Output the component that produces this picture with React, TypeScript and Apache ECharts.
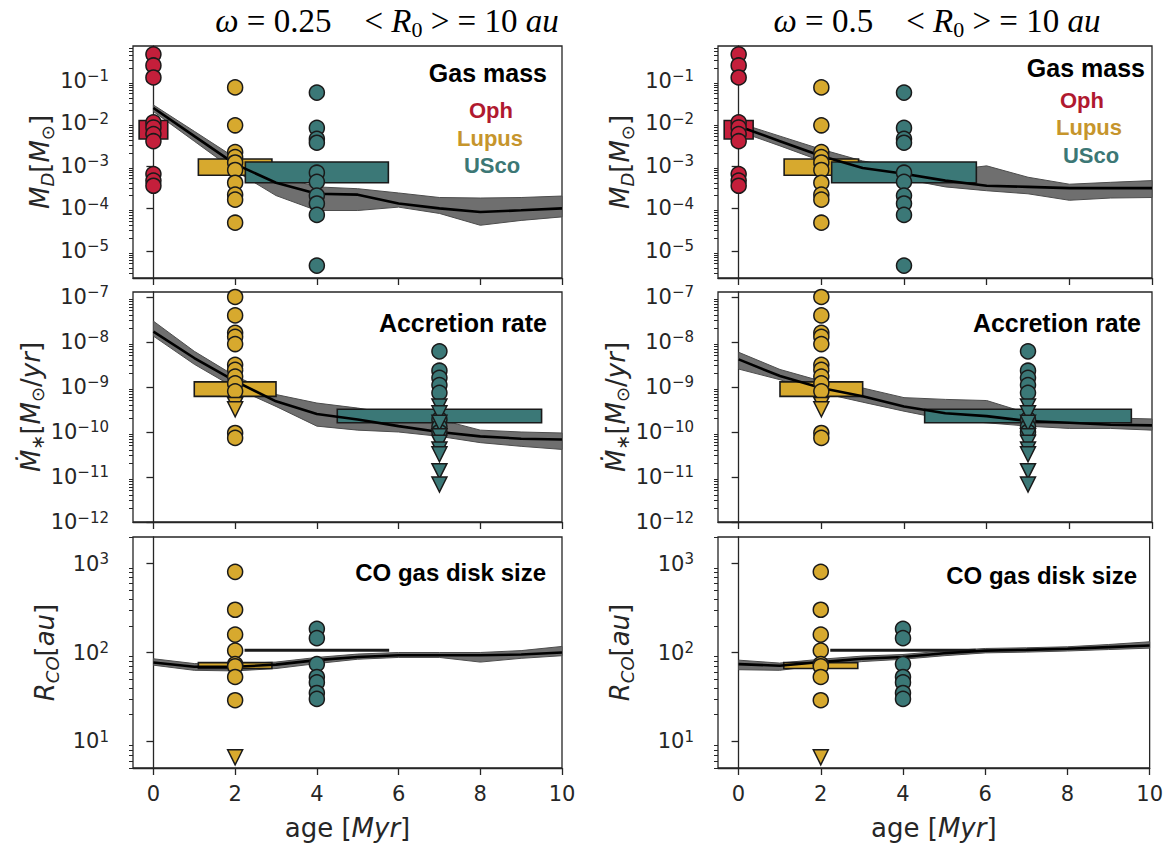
import React, { useEffect, useRef } from 'react';
import * as echarts from 'echarts';

// ---------- axis ticks ----------
const X_TICKS = [0, 2, 4, 6, 8, 10];
const MASS_RANGE = [2.3e-6, 0.66];
const ACC_RANGE = [1e-12, 1.29e-7];
const RCO_RANGE = [5, 2000];

// ---------- observations ----------
const OPH_AGE = 0;
const LUPUS_AGE = 2;
const USCO_AGE = 4;
const USCO_AGE_ACC = 7;

const OPH_MASS = [0.42, 0.23, 0.12, 1.05e-2, 8e-3, 5.6e-3, 3.8e-3, 6.4e-4, 4.5e-4, 3.4e-4];
const LUPUS_MASS = [0.07, 9e-3, 2.1e-3, 1.6e-3, 1.2e-3, 8e-4, 4e-4, 2.1e-4, 1.6e-4, 4.6e-5];
const USCO_MASS = [0.053, 7.8e-3, 4.3e-3, 3.5e-3, 6.9e-4, 4.2e-4, 2e-4, 1.3e-4, 7e-5, 4.5e-6];

const LUPUS_ACC = [1e-7, 3.9e-8, 1.6e-8, 1.3e-8, 9e-9, 3.1e-9, 2.4e-9, 1.7e-9, 1.2e-9, 8e-10, 9.5e-11, 7.4e-11];
const LUPUS_ACC_UL = [4e-10, 3.2e-10];
const USCO_ACC = [6.2e-9, 2.3e-9, 1.6e-9, 1.1e-9, 7.4e-10, 1.9e-10, 1.3e-10, 1e-10];
const USCO_ACC_UL = [3.7e-10, 2.6e-10, 1.6e-10, 8e-11, 5.8e-11, 4.1e-11, 3.2e-11, 1.35e-11, 6.8e-12];

const LUPUS_RCO = [810, 303, 159, 105, 74, 70, 53, 29];
const LUPUS_RCO_UL = [6.6];
const USCO_RCO = [185, 145, 74, 53, 46, 35, 30];

// boxes: [x0, x1, y0, y1]
const OPH_MASS_BOX = [-0.35, 0.35, 4.3e-3, 1.17e-2];
const LUPUS_MASS_BOX = [1.1, 2.9, 6e-4, 1.45e-3];
const USCO_MASS_BOX = [2.25, 5.75, 4e-4, 1.23e-3];
const LUPUS_ACC_BOX = [1.0, 3.0, 6.2e-10, 1.3e-9];
const USCO_ACC_BOX = [4.5, 9.5, 1.6e-10, 3.2e-10];
const LUPUS_RCO_BOX = [1.1, 2.9, 66, 77];
const USCO_RCO_BOX = [2.25, 5.75, 104, 108];

// ---------- models (age grid) ----------
const MODEL_AGES = [0, 1, 2, 3, 4, 5, 6, 7, 8, 9, 10];

// omega = 0.25
const L_MASS_MID = [2.3e-2, 5e-3, 1.1e-3, 4e-4, 2.2e-4, 2.1e-4, 1.3e-4, 1e-4, 8.2e-5, 9e-5, 1e-4];
const L_MASS_HI = [2.7e-2, 6.5e-3, 1.55e-3, 5.9e-4, 3.2e-4, 2.9e-4, 2.3e-4, 1.8e-4, 1.75e-4, 1.8e-4, 1.95e-4];
const L_MASS_LO = [1.9e-2, 3.8e-3, 7.6e-4, 2e-4, 8.9e-5, 8.9e-5, 1.07e-4, 7.6e-5, 4e-5, 5.2e-5, 6.3e-5];
const L_ACC_MID = [1.7e-8, 4.4e-9, 1.35e-9, 4.8e-10, 2.5e-10, 1.9e-10, 1.35e-10, 1.0e-10, 8e-11, 7.1e-11, 6.8e-11];
const L_ACC_HI = [2.9e-8, 6.2e-9, 1.75e-9, 6.8e-10, 4.4e-10, 3.4e-10, 2.45e-10, 1.9e-10, 1.1e-10, 1.0e-10, 9.5e-11];
const L_ACC_LO = [1.35e-8, 3.2e-9, 9.5e-10, 3.7e-10, 1.35e-10, 1.1e-10, 1.0e-10, 8e-11, 5.8e-11, 4.8e-11, 4.1e-11];
const L_RCO_MID = [77, 69, 69, 73, 82, 89, 93, 93, 93, 95, 100];
const L_RCO_HI = [85, 75, 75, 78, 88, 96, 100, 100, 100, 105, 117];
const L_RCO_LO = [72, 63, 62, 66, 75, 84, 88, 88, 78, 86, 92];

// omega = 0.5
const R_MASS_MID = [8.5e-3, 3.8e-3, 1.7e-3, 8.9e-4, 6.5e-4, 4.5e-4, 3.4e-4, 3.2e-4, 3e-4, 3e-4, 3e-4];
const R_MASS_HI = [1.02e-2, 5e-3, 2.45e-3, 1.3e-3, 9.1e-4, 7.6e-4, 1e-3, 5.4e-4, 3.7e-4, 4.1e-4, 4.5e-4];
const R_MASS_LO = [6.5e-3, 2.95e-3, 1.3e-3, 6.9e-4, 4.9e-4, 3.2e-4, 2.6e-4, 2.2e-4, 1.55e-4, 1.75e-4, 1.8e-4];
const R_ACC_MID = [4.1e-9, 1.75e-9, 9.5e-10, 6.2e-10, 3.7e-10, 2.6e-10, 2.25e-10, 1.75e-10, 1.6e-10, 1.45e-10, 1.4e-10];
const R_ACC_HI = [5.9e-9, 2.45e-9, 1.35e-9, 9.5e-10, 5.8e-10, 5.3e-10, 5e-10, 2.6e-10, 2.05e-10, 2.05e-10, 1.95e-10];
const R_ACC_LO = [2.5e-9, 1.45e-9, 7.4e-10, 4.6e-10, 2.9e-10, 1.9e-10, 1.6e-10, 1.35e-10, 1.2e-10, 1.2e-10, 1.1e-10];
const R_RCO_MID = [74, 71, 78, 85, 89, 98, 105, 107, 110, 115, 120];
const R_RCO_HI = [82, 76, 84, 91, 95, 104, 111, 113, 116, 123, 132];
const R_RCO_LO = [64, 63, 72, 79, 84, 92, 99, 101, 104, 108, 112];

// ---------- style ----------
const C_OPH = '#c41f3b';
const C_LUP = '#d7a92e';
const C_USC = '#3b7877';
const EDGE = '#1a1a1a';
const AX = '#262626';

const GRIDS = [
  { left: 133, top: 46, width: 429, height: 232 },
  { left: 133, top: 292, width: 429, height: 230 },
  { left: 133, top: 537, width: 429, height: 231 },
  { left: 718, top: 46, width: 434, height: 232 },
  { left: 718, top: 292, width: 434, height: 230 },
  { left: 718, top: 537, width: 434, height: 231 },
];
const RANGES = [MASS_RANGE, ACC_RANGE, RCO_RANGE];

function majors(lo: number, hi: number) {
  const out: number[] = [];
  for (let e = Math.ceil(Math.log10(lo) - 1e-9); e <= Math.floor(Math.log10(hi) + 1e-9); e++) out.push(Math.pow(10, e));
  return out;
}
function minors(lo: number, hi: number) {
  const out: number[] = [];
  for (let e = Math.floor(Math.log10(lo)); e <= Math.ceil(Math.log10(hi)); e++) {
    for (let k = 2; k <= 9; k++) {
      const v = k * Math.pow(10, e);
      if (v >= lo && v <= hi) out.push(v);
    }
  }
  return out;
}

const MATH_RICH = {
  i: { fontFamily: 'DejaVu Sans', fontStyle: 'italic', fontSize: 26, lineHeight: 32, color: AX },
  n: { fontFamily: 'DejaVu Sans', fontSize: 26, lineHeight: 32, color: AX },
  s: { fontFamily: 'DejaVu Sans', fontStyle: 'italic', fontSize: 18, lineHeight: 16, verticalAlign: 'bottom', color: AX },
  su: { fontFamily: 'DejaVu Sans', fontSize: 18, lineHeight: 16, verticalAlign: 'bottom', color: AX },
};
const Y_NAMES = [
  '{i|M}{s|D}{n|[}{i|M}{su|⊙}{n|]}',
  '{i|Ṁ}{su|∗}{n|[}{i|M}{su|⊙}{n|/}{i|yr}{n|]}',
  '{i|R}{s|CO}{n|[}{i|au}{n|]}',
];

const TICK_RICH = {
  b: { fontFamily: 'DejaVu Sans', fontSize: 21, lineHeight: 24, color: AX },
  p: { fontFamily: 'DejaVu Sans', fontSize: 15, lineHeight: 12, verticalAlign: 'top', color: AX },
};
function logLabel(v: number) {
  const e = Math.round(Math.log10(v));
  return '{b|10}{p|' + (e < 0 ? '\u2212' + -e : String(e)) + '}';
}

function bandSeries(i: number, lo: number[], hi: number[], mid: number[]) {
  return {
    type: 'custom',
    xAxisIndex: i,
    yAxisIndex: 2 * i,
    silent: true,
    z: 2,
    data: [[MODEL_AGES[0], mid[0]]],
    renderItem: (params: any, api: any) => {
      const pts: number[][] = [];
      for (let k = 0; k < MODEL_AGES.length; k++) pts.push(api.coord([MODEL_AGES[k], hi[k]]));
      for (let k = MODEL_AGES.length - 1; k >= 0; k--) pts.push(api.coord([MODEL_AGES[k], lo[k]]));
      return {
        type: 'polygon',
        shape: { points: pts },
        style: { fill: '#6f6f6f', stroke: '#4d4d4d', lineWidth: 1 },
      };
    },
  };
}

function boxSeries(i: number, boxes: { box: number[]; color: string }[]) {
  return {
    type: 'custom',
    xAxisIndex: i,
    yAxisIndex: 2 * i,
    silent: true,
    z: 3,
    encode: { x: [0, 1], y: [2, 3] },
    data: boxes.map((b) => ({ value: b.box, itemStyle: { color: b.color } })),
    renderItem: (params: any, api: any) => {
      const p0 = api.coord([api.value(0), api.value(3)]);
      const p1 = api.coord([api.value(1), api.value(2)]);
      return {
        type: 'rect',
        shape: { x: p0[0], y: p0[1], width: p1[0] - p0[0], height: p1[1] - p0[1] },
        style: { fill: api.visual('color'), stroke: EDGE, lineWidth: 1.6 },
      };
    },
  };
}

function lineSeries(i: number, mid: number[]) {
  return {
    type: 'line',
    xAxisIndex: i,
    yAxisIndex: 2 * i,
    silent: true,
    z: 4,
    symbol: 'none',
    data: MODEL_AGES.map((a, k) => [a, mid[k]]),
    lineStyle: { color: '#000', width: 2.6 },
  };
}

function dots(i: number, age: number, vals: number[], color: string, tri = false) {
  return {
    type: 'scatter',
    xAxisIndex: i,
    yAxisIndex: 2 * i,
    silent: true,
    z: 5,
    symbol: tri ? 'triangle' : 'circle',
    symbolRotate: tri ? 180 : 0,
    symbolSize: 15,
    data: vals.map((v) => [age, v]),
    itemStyle: { color, borderColor: EDGE, borderWidth: 1.5, opacity: 1 },
  };
}

function panelSeries(col: number) {
  const b = col * 3;
  const M = col === 0 ? [L_MASS_LO, L_MASS_HI, L_MASS_MID] : [R_MASS_LO, R_MASS_HI, R_MASS_MID];
  const A = col === 0 ? [L_ACC_LO, L_ACC_HI, L_ACC_MID] : [R_ACC_LO, R_ACC_HI, R_ACC_MID];
  const R = col === 0 ? [L_RCO_LO, L_RCO_HI, L_RCO_MID] : [R_RCO_LO, R_RCO_HI, R_RCO_MID];
  return [
    // gas mass
    bandSeries(b, M[0], M[1], M[2]),
    boxSeries(b, [
      { box: OPH_MASS_BOX, color: C_OPH },
      { box: LUPUS_MASS_BOX, color: C_LUP },
      { box: USCO_MASS_BOX, color: C_USC },
    ]),
    lineSeries(b, M[2]),
    dots(b, OPH_AGE, OPH_MASS, C_OPH),
    dots(b, LUPUS_AGE, LUPUS_MASS, C_LUP),
    dots(b, USCO_AGE, USCO_MASS, C_USC),
    // accretion
    bandSeries(b + 1, A[0], A[1], A[2]),
    boxSeries(b + 1, [
      { box: LUPUS_ACC_BOX, color: C_LUP },
      { box: USCO_ACC_BOX, color: C_USC },
    ]),
    lineSeries(b + 1, A[2]),
    dots(b + 1, LUPUS_AGE, LUPUS_ACC, C_LUP),
    dots(b + 1, LUPUS_AGE, LUPUS_ACC_UL, C_LUP, true),
    dots(b + 1, USCO_AGE_ACC, USCO_ACC, C_USC),
    dots(b + 1, USCO_AGE_ACC, USCO_ACC_UL, C_USC, true),
    // CO size
    bandSeries(b + 2, R[0], R[1], R[2]),
    boxSeries(b + 2, [
      { box: LUPUS_RCO_BOX, color: C_LUP },
      { box: USCO_RCO_BOX, color: C_USC },
    ]),
    lineSeries(b + 2, R[2]),
    dots(b + 2, LUPUS_AGE, LUPUS_RCO, C_LUP),
    dots(b + 2, LUPUS_AGE, LUPUS_RCO_UL, C_LUP, true),
    dots(b + 2, USCO_AGE, USCO_RCO, C_USC),
  ];
}

function buildOption() {
  const grid = GRIDS.map((g) => ({
    ...g,
    show: true,
    borderColor: AX,
    borderWidth: 1.3,
    backgroundColor: 'transparent',
  }));
  const xAxis = GRIDS.map((g, i) => {
    const bottom = i % 3 === 2;
    return {
      type: 'value',
      gridIndex: i,
      min: -0.5,
      max: 10,
      axisLine: { show: true, onZero: false, lineStyle: { color: AX, width: 1.3 } },
      axisTick: { show: true, customValues: X_TICKS, length: 7, lineStyle: { color: AX, width: 1.3 } },
      axisLabel: {
        show: bottom,
        customValues: X_TICKS,
        margin: 15,
        fontFamily: 'DejaVu Sans',
        fontSize: 21,
        color: AX,
      },
      splitLine: { show: false },
      name: bottom ? '{n|age [}{i|Myr}{n|]}' : '',
      nameLocation: 'middle',
      nameGap: 44,
      nameTextStyle: { rich: MATH_RICH },
    };
  });
  const yAxis: any[] = [];
  GRIDS.forEach((g, i) => {
    const r = i % 3;
    const [lo, hi] = RANGES[r];
    const maj = majors(lo, hi);
    yAxis.push({
      type: 'log',
      logBase: 10,
      gridIndex: i,
      position: 'left',
      min: lo,
      max: hi,
      axisLine: { show: true, lineStyle: { color: AX, width: 1.3 } },
      axisTick: { show: true, customValues: maj, length: 7, lineStyle: { color: AX, width: 1.3 } },
      axisLabel: {
        show: true,
        customValues: maj,
        margin: 24,
        formatter: (v: number) => logLabel(v),
        rich: TICK_RICH,
      },
      splitLine: { show: false },
      minorTick: { show: false },
      name: Y_NAMES[r],
      nameLocation: 'middle',
      nameRotate: 90,
      nameGap: i < 3 ? 72 : 82,
      nameTextStyle: { rich: MATH_RICH },
    });
    yAxis.push({
      type: 'log',
      logBase: 10,
      gridIndex: i,
      position: 'left',
      min: lo,
      max: hi,
      axisLine: { show: false },
      axisTick: { show: true, customValues: minors(lo, hi), length: 4, lineStyle: { color: AX, width: 1 } },
      axisLabel: { show: false },
      splitLine: { show: false },
    });
  });

  const TITLE_RICH = {
    i: { fontFamily: 'Liberation Serif', fontStyle: 'italic', fontSize: 33, lineHeight: 38, color: '#000' },
    n: { fontFamily: 'Liberation Serif', fontSize: 33, lineHeight: 38, color: '#000' },
    s: { fontFamily: 'Liberation Serif', fontSize: 22, lineHeight: 20, verticalAlign: 'bottom', color: '#000' },
  };
  const labelText = (x: number, y: number, text: string, color: string, size: number, align: string) => ({
    type: 'text',
    x,
    y,
    silent: true,
    style: {
      text,
      fill: color,
      font: `bold ${size}px "Liberation Sans", Arial, sans-serif`,
      align,
      verticalAlign: 'middle',
    },
  });

  const graphic = [
    {
      type: 'text',
      x: 387,
      y: 21,
      style: {
        text: '{i|ω}{n| = 0.25    < }{i|R}{s|0}{n| > = 10 }{i|au}',
        rich: TITLE_RICH,
        align: 'center',
        verticalAlign: 'middle',
      },
    },
    {
      type: 'text',
      x: 937,
      y: 21,
      style: {
        text: '{i|ω}{n| = 0.5    < }{i|R}{s|0}{n| > = 10 }{i|au}',
        rich: TITLE_RICH,
        align: 'center',
        verticalAlign: 'middle',
      },
    },
    labelText(547, 73, 'Gas mass', '#000', 25, 'right'),
    labelText(491, 110, 'Oph', '#b0192f', 22, 'center'),
    labelText(490, 138, 'Lupus', '#c6952c', 22, 'center'),
    labelText(492, 165, 'USco', '#3c7775', 22, 'center'),
    labelText(547, 323, 'Accretion rate', '#000', 25, 'right'),
    labelText(546, 572, 'CO gas disk size', '#000', 24, 'right'),
    labelText(1145, 68, 'Gas mass', '#000', 25, 'right'),
    labelText(1082, 100, 'Oph', '#b0192f', 22, 'center'),
    labelText(1089, 127, 'Lupus', '#c6952c', 22, 'center'),
    labelText(1091, 155, 'USco', '#3c7775', 22, 'center'),
    labelText(1141, 323, 'Accretion rate', '#000', 25, 'right'),
    labelText(1137, 575, 'CO gas disk size', '#000', 24, 'right'),
  ];

  return {
    animation: false,
    backgroundColor: '#fff',
    grid,
    xAxis,
    yAxis,
    graphic,
    series: [...panelSeries(0), ...panelSeries(1)],
  };
}

export default function App() {
  const ref = useRef<HTMLDivElement>(null);
  useEffect(() => {
    const chart = echarts.init(ref.current as HTMLDivElement, undefined, { renderer: 'svg' });
    chart.setOption(buildOption() as any);
    return () => chart.dispose();
  }, []);
  return (
    <div
      ref={ref}
      style={{ position: 'absolute', left: 0, top: 0, width: 1166, height: 846, background: '#fff' }}
    />
  );
}
